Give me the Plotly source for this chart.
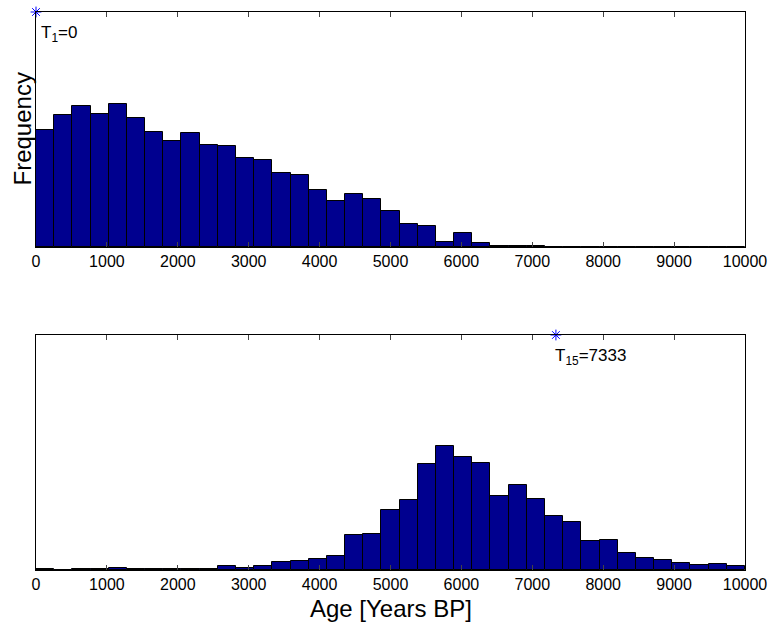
import plotly.graph_objects as go
from plotly.subplots import make_subplots

# ---- data ----
age_min = 0
age_max = 10000
n_bins = 39
top_counts = [117.3, 132.3, 141.3, 133.3, 143.3, 129.3, 115.3, 105.7, 114.3, 101.7,
              101.0, 88.7, 86.7, 74.0, 72.3, 57.0, 46.3, 53.3, 48.3, 35.7,
              23.3, 20.7, 5.0, 13.7, 3.7, 1.0, 1.0, 0.7, 0, 0,
              0, 0, 0, 0, 0, 0, 0, 0, 0]
bottom_counts = [1.3, 0.3, 0.7, 1.3, 1.7, 0.7, 1.0, 1.0, 0.7, 1.3,
                 4.3, 1.7, 3.7, 8.0, 8.7, 11.3, 14.0, 34.7, 36.3, 60.3,
                 69.7, 106.3, 124.0, 112.7, 107.0, 74.0, 85.0, 70.7, 53.7, 47.7,
                 29.0, 29.7, 16.7, 12.3, 10.3, 7.0, 4.7, 6.0, 4.0]
y_max = 235
tick_vals = [0, 1000, 2000, 3000, 4000, 5000, 6000, 7000, 8000, 9000, 10000]
tick_text = [str(v) for v in tick_vals]
marker_top = 0
marker_bottom = 7333
label_top = "T<sub>1</sub>=0"
label_bottom = "T<sub>15</sub>=7333"

bin_w = (age_max - age_min) / n_bins
centers = [age_min + (i + 0.5) * bin_w for i in range(n_bins)]

FONT = "Arial, 'Liberation Sans', sans-serif"
BAR = "rgb(0,0,143)"
STAR = "rgb(0,0,255)"

fig = make_subplots(rows=2, cols=1, vertical_spacing=0.0)

for row, counts in ((1, top_counts), (2, bottom_counts)):
    fig.add_trace(go.Bar(x=centers, y=counts, width=bin_w,
                         marker=dict(color=BAR, line=dict(color="black", width=1)),
                         showlegend=False), row=row, col=1)

for row, mx in ((1, marker_top), (2, marker_bottom)):
    fig.add_trace(go.Scatter(x=[mx], y=[y_max], mode="markers",
                             marker=dict(symbol="asterisk-open", size=9, color=STAR,
                                         line=dict(color=STAR, width=1)),
                             cliponaxis=False, showlegend=False), row=row, col=1)

W, H = 769, 624
ml, mr, mt, mb = 36, 24, 12, 54
ph = H - mt - mb
top_dom = [(570 - 247) / ph, 1.0]
bot_dom = [0.0, (570 - 335) / ph]

axis_x = dict(range=[age_min, age_max], tickvals=tick_vals, ticktext=tick_text,
              ticks="inside", ticklen=5, tickcolor="#444", tickwidth=1,
              showline=True, linecolor="black", linewidth=1, mirror="ticks",
              showgrid=False, zeroline=False, automargin=False,
              tickfont=dict(family=FONT, size=16, color="black"))
axis_y = dict(range=[0, y_max], showticklabels=False, ticks="",
              showline=True, linecolor="black", linewidth=1, mirror=True,
              showgrid=False, zeroline=False, automargin=False)

fig.update_layout(
    width=W, height=H,
    margin=dict(l=ml, r=mr, t=mt, b=mb),
    paper_bgcolor="white", plot_bgcolor="white",
    bargap=0,
    font=dict(family=FONT, color="black"),
    xaxis=dict(axis_x, anchor="y"),
    xaxis2=dict(axis_x, anchor="y2"),
    yaxis=dict(axis_y, domain=top_dom),
    yaxis2=dict(axis_y, domain=bot_dom),
)

fig.add_annotation(x=marker_top, y=y_max, xref="x", yref="y", text=label_top,
                   showarrow=False, xanchor="left", yanchor="top",
                   xshift=3, yshift=-9, font=dict(family=FONT, size=17, color="black"))
fig.add_annotation(x=marker_bottom, y=y_max, xref="x2", yref="y2", text=label_bottom,
                   showarrow=False, xanchor="left", yanchor="top",
                   xshift=-3, yshift=-9, font=dict(family=FONT, size=17, color="black"))

fig.add_annotation(x=0, y=(top_dom[0] + top_dom[1]) / 2, xref="paper", yref="paper",
                   text="Frequency", textangle=-90, showarrow=False,
                   xanchor="center", yanchor="middle", xshift=-14,
                   font=dict(family=FONT, size=24, color="black"))
fig.add_annotation(x=0.5, y=0, xref="paper", yref="paper",
                   text="Age [Years BP]", showarrow=False,
                   xanchor="center", yanchor="middle", yshift=-38,
                   font=dict(family=FONT, size=24, color="black"))

fig.write_html("out.html")
